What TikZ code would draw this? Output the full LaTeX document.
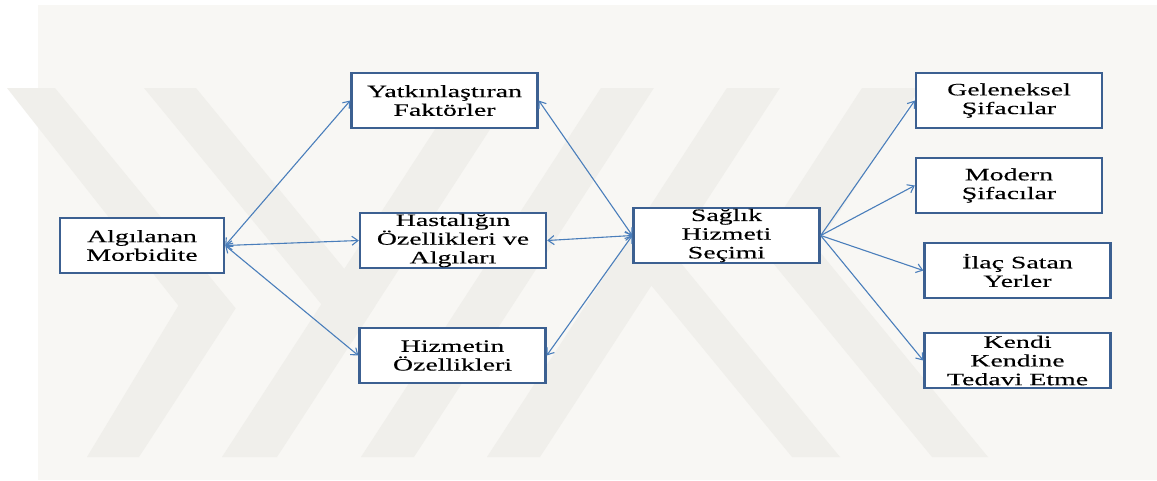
\documentclass[tikz,border=0pt]{standalone}
\usepackage{fontspec}
\usetikzlibrary{arrows.meta}
\newfontfamily\boxfont[FakeStretch=1.6,FakeBold=0.2]{Liberation Serif}
\definecolor{pagebg}{RGB}{248,247,244}
\definecolor{markgray}{RGB}{240,239,235}
\definecolor{boxline}{RGB}{60,96,145}
\definecolor{linkblue}{RGB}{74,126,187}
\begin{document}
\begin{tikzpicture}[x=1pt,y=-1pt,
  >={Straight Barb[length=6pt,width=9pt]},
  box/.style={rectangle, draw=boxline, line width=2.4pt, fill=white,
    minimum width=186pt, minimum height=55pt, inner sep=0pt, align=center,
    font=\boxfont\fontsize{17.4}{18.7}\selectfont},
  link/.style={draw=linkblue, line width=1.1pt},
  emblemband/.style={fill=markgray}]
\useasboundingbox (0,0) rectangle (1157,480);
% page and shaded panel
\fill[white] (0,0) rectangle (1157,480);
\fill[pagebg] (38,5) rectangle (1157,480);

% faint background emblem made of slanted bands
\fill[emblemband] (7,88) -- (55,88) -- (235.7,308.3) -- (139,457) -- (87,457) -- (178.4,305.6) -- cycle;
\fill[emblemband] (144,88) -- (196,88) -- (375,306.3) -- (352,341.6) -- cycle;
\fill[emblemband] (222,457) -- (277,457) -- (516.9,88) -- (461.9,88) -- cycle;
\fill[emblemband] (361,457) -- (414,457) -- (653.9,88) -- (600.9,88) -- cycle;
\fill[emblemband] (487,457) -- (540,457) -- (779.9,88) -- (726.9,88) -- cycle;
\fill[emblemband] (792,457) -- (840,457) -- (643,216.9) -- (621.8,249.5) -- cycle;
\fill[emblemband] (862,88) -- (920,88) -- (816.3,247.6) -- (988,457) -- (932,457) -- (759.2,246.2) -- cycle;

% boxes
\node[box, minimum width=164pt] (alg) at (142,245.5) {Algılanan\\Morbidite};
\node[box] (yat) at (444.5,100.5) {Yatkınlaştıran\\Faktörler};
\node[box] (has) at (453,240.5) {Hastalığın\\Özellikleri ve\\Algıları};
\node[box] (hiz) at (452.5,355.5) {Hizmetin\\Özellikleri};
\node[box] (sag) at (726.5,235.5) {Sağlık\\Hizmeti\\Seçimi};
\node[box] (gel) at (1009,100.5) {Geleneksel\\Şifacılar};
\node[box] (mod) at (1009,185.5) {Modern\\Şifacılar};
\node[box] (ilac) at (1017.5,270.5) {İlaç Satan\\Yerler};
\node[box] (ken) at (1017.5,360.5) {Kendi\\Kendine\\Tedavi Etme};

% two-way links
\draw[link,<->] (alg.east) -- (yat.west);
\draw[link,<->] (alg.east) -- (has.west);
\draw[link,<->] (alg.east) -- (hiz.west);
\draw[link,<->] (yat.east) -- (sag.west);
\draw[link,<->] (has.east) -- (sag.west);
\draw[link,<->] (hiz.east) -- (sag.west);
% choices
\draw[link,->] (sag.east) -- (gel.west);
\draw[link,->] (sag.east) -- (mod.west);
\draw[link,->] (sag.east) -- (ilac.west);
\draw[link,->] (sag.east) -- (ken.west);
\end{tikzpicture}
\end{document}
